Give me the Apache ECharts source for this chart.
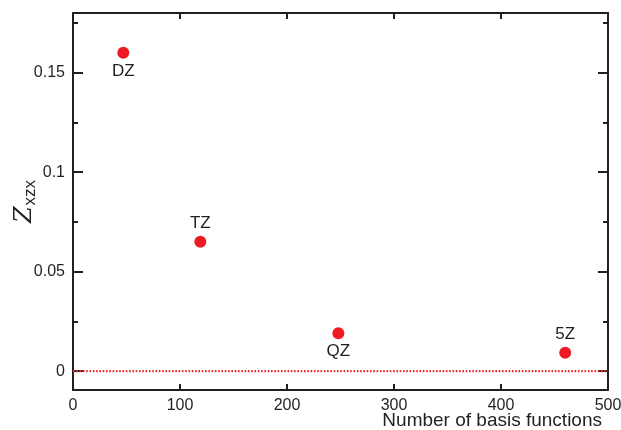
<!DOCTYPE html>
<html>
<head>
<meta charset="utf-8">
<script src="https://cdn.jsdelivr.net/npm/echarts@6/dist/echarts.min.js"></script>
<style>html,body{margin:0;padding:0;background:#fff}#c{width:621px;height:430px}</style>
</head>
<body>
<div id="c"></div>
<script>
const basisLabels = ['DZ', 'TZ', 'QZ', '5Z'];
const basisCounts = [47, 119, 248, 460];
const zValues = [0.160, 0.065, 0.019, 0.0092];
const labelPlacement = ['bottom', 'top', 'bottom', 'top'];
const yMajorTicks = [0, 0.05, 0.1, 0.15];
const yMinorTicks = [0.025, 0.075, 0.125, 0.175];
const yTickText = ['0', '0.05', '0.1', '0.15'];
const refLineX = [0, 500];
const refLineY = [0, 0];

const ink = '#231f20';
const red = '#ed1c24';
const font = 'Liberation Sans, Arial, Helvetica, sans-serif';
const yMin = -0.0095, yMax = 0.18;

function yAxisDef(pos, ticks, len, showLine, showLabel) {
  return {
    type: 'value', position: pos, min: yMin, max: yMax,
    axisLine: {show: showLine, onZero: false, lineStyle: {color: ink, width: 2}},
    axisTick: {show: true, inside: true, length: len, customValues: ticks, lineStyle: {color: ink, width: 2}},
    axisLabel: showLabel ? {show: true, customValues: yMajorTicks, color: ink, fontSize: 16, fontFamily: font, margin: 8,
      formatter: v => { const i = yMajorTicks.findIndex(t => Math.abs(t - v) < 1e-9); return i >= 0 ? yTickText[i] : ''; }} : {show: false},
    splitLine: {show: false}
  };
}

const pts = basisCounts.map((x, i) => ({
  value: [x, zValues[i]],
  label: {show: true, formatter: basisLabels[i], position: labelPlacement[i], distance: 4, color: ink, fontSize: 17, fontFamily: font}
}));

const chart = echarts.init(document.getElementById('c'));
chart.setOption({
  animation: false,
  backgroundColor: '#fff',
  grid: {left: 73, right: 13, top: 13, bottom: 40, containLabel: false, outerBoundsMode: 'none'},
  xAxis: [
    {type: 'value', position: 'bottom', min: 0, max: 500, interval: 100,
     axisLine: {show: true, onZero: false, lineStyle: {color: ink, width: 2}},
     axisTick: {show: true, inside: true, length: 6, lineStyle: {color: ink, width: 2}},
     axisLabel: {color: ink, fontSize: 16, fontFamily: font, margin: 8},
     splitLine: {show: false}},
    {type: 'value', position: 'top', min: 0, max: 500, interval: 100,
     axisLine: {show: true, onZero: false, lineStyle: {color: ink, width: 2}},
     axisTick: {show: true, inside: true, length: 6, lineStyle: {color: ink, width: 2}},
     axisLabel: {show: false}, splitLine: {show: false}}
  ],
  yAxis: [
    Object.assign(yAxisDef('left', yMajorTicks, 10, true, true), {
      name: '{z|Z}{s|xzx}', nameLocation: 'middle', nameRotate: 90, nameGap: 34, nameMoveOverlap: false,
      nameTextStyle: {rich: {
        z: {fontSize: 24, fontStyle: 'italic', fontFamily: 'DejaVu Serif', color: ink, verticalAlign: 'top', lineHeight: 26},
        s: {fontSize: 17, fontFamily: font, color: ink, verticalAlign: 'bottom', lineHeight: 18, padding: [13, 0, 0, 1]}
      }}
    }),
    yAxisDef('left', yMinorTicks, 5, false, false),
    yAxisDef('right', yMajorTicks, 10, true, false),
    yAxisDef('right', yMinorTicks, 5, false, false)
  ],
  graphic: [{
    type: 'text', right: 19, top: 411,
    style: {text: 'Number of basis functions', fill: ink, fontSize: 19, fontFamily: font}
  }],
  series: [
    {type: 'line', xAxisIndex: 0, yAxisIndex: 0, data: refLineX.map((x, i) => [x, refLineY[i]]),
     symbol: 'none', z: 1, lineStyle: {color: '#ee2a35', width: 2.4, type: [1.6, 1.7]}},
    {type: 'scatter', xAxisIndex: 0, yAxisIndex: 0, data: pts, symbolSize: 12,
     itemStyle: {color: red, opacity: 1}, z: 3}
  ]
});
</script>
</body>
</html>
